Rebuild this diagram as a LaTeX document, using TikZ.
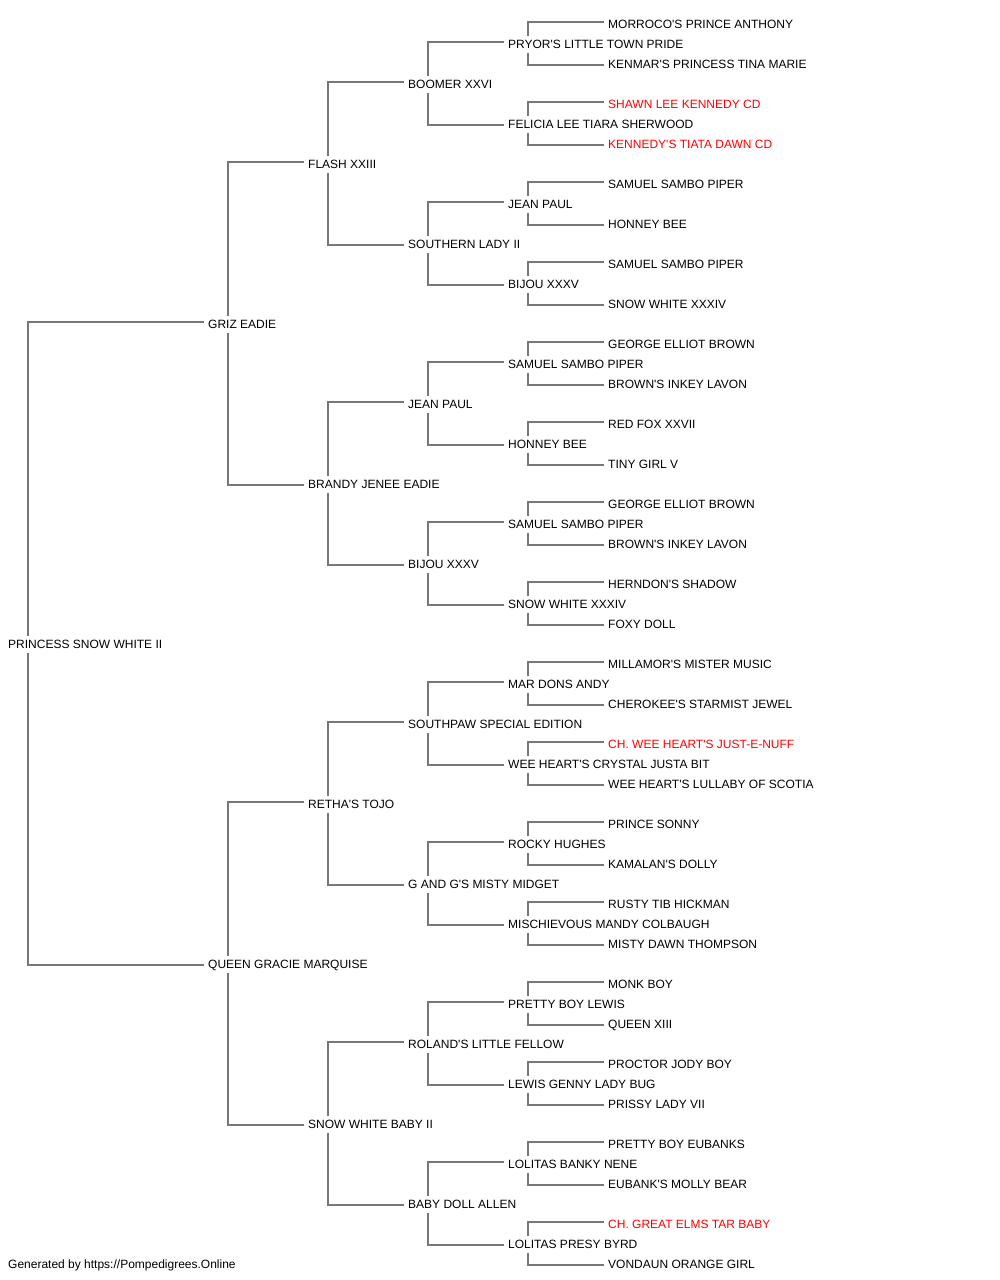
\documentclass[tikz,border=0pt]{standalone}
\usepackage{fontspec}
\setmainfont{Liberation Sans}[Ligatures=TeXOff]
\definecolor{lncol}{RGB}{119,119,119}
\definecolor{redname}{RGB}{255,0,0}
\tikzset{
  pn/.style={anchor=base west, inner sep=0pt, text height=12pt, text depth=5pt, font=\fontsize{12pt}{14pt}\selectfont},
  rn/.style={pn, text=redname},
  conn/.style={draw=lncol, line width=1.3pt}
}
\begin{document}
\begin{tikzpicture}[x=1pt,y=-1pt]
\useasboundingbox (0,0) rectangle (1000,1280);
% generation 5
\node[pn] (n0) at (608,28) {MORROCO'S PRINCE ANTHONY};
\node[pn] (n2) at (608,68) {KENMAR'S PRINCESS TINA MARIE};
\node[rn] (n4) at (608,108) {SHAWN LEE KENNEDY CD};
\node[rn] (n6) at (608,148) {KENNEDY'S TIATA DAWN CD};
\node[pn] (n8) at (608,188) {SAMUEL SAMBO PIPER};
\node[pn] (n10) at (608,228) {HONNEY BEE};
\node[pn] (n12) at (608,268) {SAMUEL SAMBO PIPER};
\node[pn] (n14) at (608,308) {SNOW WHITE XXXIV};
\node[pn] (n16) at (608,348) {GEORGE ELLIOT BROWN};
\node[pn] (n18) at (608,388) {BROWN'S INKEY LAVON};
\node[pn] (n20) at (608,428) {RED FOX XXVII};
\node[pn] (n22) at (608,468) {TINY GIRL V};
\node[pn] (n24) at (608,508) {GEORGE ELLIOT BROWN};
\node[pn] (n26) at (608,548) {BROWN'S INKEY LAVON};
\node[pn] (n28) at (608,588) {HERNDON'S SHADOW};
\node[pn] (n30) at (608,628) {FOXY DOLL};
\node[pn] (n32) at (608,668) {MILLAMOR'S MISTER MUSIC};
\node[pn] (n34) at (608,708) {CHEROKEE'S STARMIST JEWEL};
\node[rn] (n36) at (608,748) {CH. WEE HEART'S JUST-E-NUFF};
\node[pn] (n38) at (608,788) {WEE HEART'S LULLABY OF SCOTIA};
\node[pn] (n40) at (608,828) {PRINCE SONNY};
\node[pn] (n42) at (608,868) {KAMALAN'S DOLLY};
\node[pn] (n44) at (608,908) {RUSTY TIB HICKMAN};
\node[pn] (n46) at (608,948) {MISTY DAWN THOMPSON};
\node[pn] (n48) at (608,988) {MONK BOY};
\node[pn] (n50) at (608,1028) {QUEEN XIII};
\node[pn] (n52) at (608,1068) {PROCTOR JODY BOY};
\node[pn] (n54) at (608,1108) {PRISSY LADY VII};
\node[pn] (n56) at (608,1148) {PRETTY BOY EUBANKS};
\node[pn] (n58) at (608,1188) {EUBANK'S MOLLY BEAR};
\node[rn] (n60) at (608,1228) {CH. GREAT ELMS TAR BABY};
\node[pn] (n62) at (608,1268) {VONDAUN ORANGE GIRL};
% generation 4
\node[pn] (n1) at (508,48) {PRYOR'S LITTLE TOWN PRIDE};
\node[pn] (n5) at (508,128) {FELICIA LEE TIARA SHERWOOD};
\node[pn] (n9) at (508,208) {JEAN PAUL};
\node[pn] (n13) at (508,288) {BIJOU XXXV};
\node[pn] (n17) at (508,368) {SAMUEL SAMBO PIPER};
\node[pn] (n21) at (508,448) {HONNEY BEE};
\node[pn] (n25) at (508,528) {SAMUEL SAMBO PIPER};
\node[pn] (n29) at (508,608) {SNOW WHITE XXXIV};
\node[pn] (n33) at (508,688) {MAR DONS ANDY};
\node[pn] (n37) at (508,768) {WEE HEART'S CRYSTAL JUSTA BIT};
\node[pn] (n41) at (508,848) {ROCKY HUGHES};
\node[pn] (n45) at (508,928) {MISCHIEVOUS MANDY COLBAUGH};
\node[pn] (n49) at (508,1008) {PRETTY BOY LEWIS};
\node[pn] (n53) at (508,1088) {LEWIS GENNY LADY BUG};
\node[pn] (n57) at (508,1168) {LOLITAS BANKY NENE};
\node[pn] (n61) at (508,1248) {LOLITAS PRESY BYRD};
% generation 3
\node[pn] (n3) at (408,88) {BOOMER XXVI};
\node[pn] (n11) at (408,248) {SOUTHERN LADY II};
\node[pn] (n19) at (408,408) {JEAN PAUL};
\node[pn] (n27) at (408,568) {BIJOU XXXV};
\node[pn] (n35) at (408,728) {SOUTHPAW SPECIAL EDITION};
\node[pn] (n43) at (408,888) {G AND G'S MISTY MIDGET};
\node[pn] (n51) at (408,1048) {ROLAND'S LITTLE FELLOW};
\node[pn] (n59) at (408,1208) {BABY DOLL ALLEN};
% generation 2
\node[pn] (n7) at (308,168) {FLASH XXIII};
\node[pn] (n23) at (308,488) {BRANDY JENEE EADIE};
\node[pn] (n39) at (308,808) {RETHA'S TOJO};
\node[pn] (n55) at (308,1128) {SNOW WHITE BABY II};
% generation 1
\node[pn] (n15) at (208,328) {GRIZ EADIE};
\node[pn] (n47) at (208,968) {QUEEN GRACIE MARQUISE};
% generation 0
\node[pn] (n31) at (8,648) {PRINCESS SNOW WHITE II};
% footer
\node[pn] (foot) at (8,1268) {Generated by https://Pompedigrees.Online};
% connectors
\foreach \p/\s/\d in {31/15/47, 15/7/23, 47/39/55,
  7/3/11, 23/19/27, 39/35/43, 55/51/59,
  3/1/5, 11/9/13, 19/17/21, 27/25/29, 35/33/37, 43/41/45, 51/49/53, 59/57/61,
  1/0/2, 5/4/6, 9/8/10, 13/12/14, 17/16/18, 21/20/22, 25/24/26, 29/28/30,
  33/32/34, 37/36/38, 41/40/42, 45/44/46, 49/48/50, 53/52/54, 57/56/58, 61/60/62}{
  \draw[conn] ([xshift=20pt]n\p.north west) |- ([xshift=-4pt,yshift=6pt]n\s.base west);
  \draw[conn] ([xshift=20pt]n\p.south west) |- ([xshift=-4pt,yshift=3pt]n\d.base west);
}
\end{tikzpicture}
\end{document}
